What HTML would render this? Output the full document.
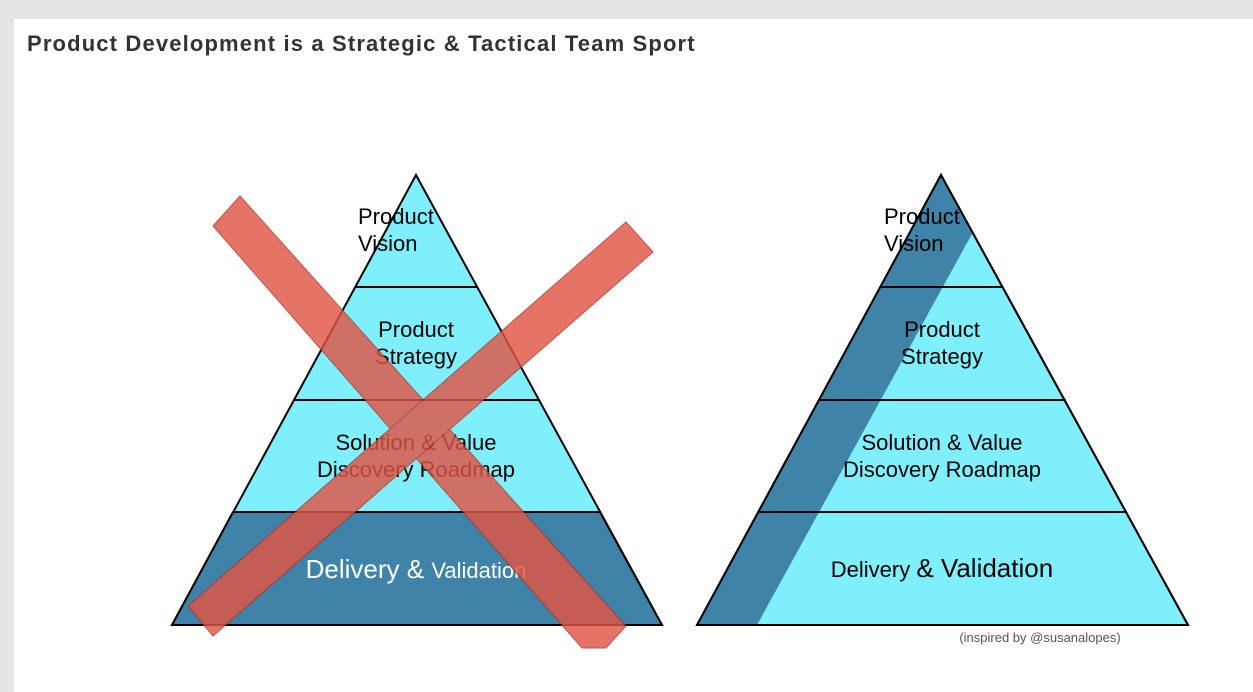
<!DOCTYPE html>
<html><head><meta charset="utf-8"><style>
html,body{margin:0;padding:0;width:1253px;height:692px;overflow:hidden;background:#e4e4e4;font-family:"Liberation Sans",sans-serif}
#card{position:absolute;left:14px;top:19px;width:1239px;height:673px;background:#fff}
#title{position:absolute;left:27px;top:31px;font-size:22px;font-weight:bold;color:#333;letter-spacing:1.15px}
</style></head><body>
<div id="card"></div>
<div id="title">Product Development is a Strategic &amp; Tactical Team Sport</div>
<svg width="1253" height="692" style="position:absolute;left:0;top:0">
<g font-family="Liberation Sans, sans-serif" font-size="22" fill="#000" text-anchor="middle">
<polygon points="416,175 662,625 172,625" fill="#7ff0fb" stroke="#000" stroke-width="2"/>
<polygon points="233,512 600,512 662,625 172,625" fill="#3f84a8" stroke="#000" stroke-width="2"/>
<line x1="355" y1="287" x2="477" y2="287" stroke="#000" stroke-width="2"/>
<line x1="294" y1="400" x2="539" y2="400" stroke="#000" stroke-width="2"/>
<text x="358" y="224" text-anchor="start">Product</text><text x="358" y="251" text-anchor="start">Vision</text>
<text x="416" y="337">Product</text><text x="416" y="364">Strategy</text>
<text x="416" y="450">Solution &amp; Value</text><text x="416" y="477">Discovery Roadmap</text>
<text x="416" y="578" fill="#fff" font-size="26">Delivery &amp; <tspan font-size="22">Validation</tspan></text>
</g>
<g opacity="0.82">
<polygon points="213,226 240,196 626,626 606,648 582,648" fill="#e05545" stroke="#b03020"/>
<polygon points="626,222 653,252 213,636 188,606" fill="#e05545" stroke="#b03020"/>
</g>
<g font-family="Liberation Sans, sans-serif" font-size="22" fill="#000" text-anchor="middle">
<polygon points="941,175 1188,625 697,625" fill="#7ff0fb" stroke="#000" stroke-width="2"/>
<polygon points="941,175 973,232 757,625 697,625" fill="#3f84a8"/>
<polygon points="941,175 1188,625 697,625" fill="none" stroke="#000" stroke-width="2"/>
<line x1="880" y1="287" x2="1003" y2="287" stroke="#000" stroke-width="2"/>
<line x1="820" y1="400" x2="1066" y2="400" stroke="#000" stroke-width="2"/>
<line x1="758" y1="512" x2="1127" y2="512" stroke="#000" stroke-width="2"/>
<text x="884" y="224" text-anchor="start">Product</text><text x="884" y="251" text-anchor="start">Vision</text>
<text x="942" y="337">Product</text><text x="942" y="364">Strategy</text>
<text x="942" y="450">Solution &amp; Value</text><text x="942" y="477">Discovery Roadmap</text>
<text x="942" y="577">Delivery <tspan font-size="26">&amp; Validation</tspan></text>
</g>
<text x="1040" y="642" text-anchor="middle" font-family="Liberation Sans, sans-serif" font-size="13" fill="#555">(inspired by @susanalopes)</text>
</svg>
</body></html>
